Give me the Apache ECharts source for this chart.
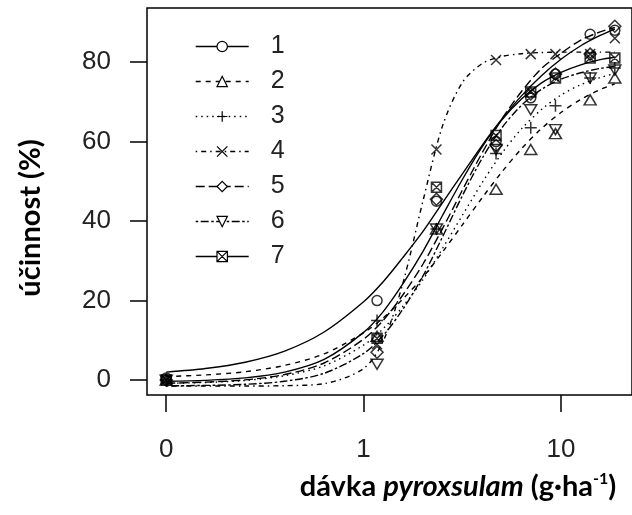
<!DOCTYPE html>
<html>
<head>
<meta charset="utf-8">
<script src="https://cdn.jsdelivr.net/npm/echarts@6/dist/echarts.min.js"></script>
<style>
  html, body { margin: 0; padding: 0; background: #fff; }
  #chart { width: 632px; height: 515px; }
</style>
</head>
<body>
<div id="chart"></div>
<script>
// Dose levels of pyroxsulam (g/ha); the untreated control (0) sits one decade below 1.
const doses = [0, 1.17, 2.34, 4.69, 7.03, 9.38, 14.06, 18.75];
// Doses at which the fitted dose-response curves are sampled.
const curveDoses = [0, 0.158, 0.251, 0.398, 0.631, 1, 1.26, 1.58, 2, 2.51, 3.16, 3.98, 5.01, 6.31, 7.94, 10, 12.6, 15.8, 18.75];
const groupNames = ['1', '2', '3', '4', '5', '6', '7'];

// Observed efficacy (%) per group.
const obs1 = [0.5, 20, 45, 60, 71, 77, 87, 88];
const obs2 = [0, 11, 38, 48, 58, 62, 70.5, 76];
const obs3 = [0, 15, 38, 57, 63.5, 69, 76, 78.5];
const obs4 = [0, 9, 58, 80.5, 82, 82, 82, 86];
const obs5 = [0, 7, 45.5, 59, 72, 77, 82, 89];
const obs6 = [0, 4, 38, 58, 68, 63, 76, 78];
const obs7 = [0, 10.5, 48.5, 61.5, 72.5, 76, 81, 81];

// Fitted efficacy (%) per group at curveDoses.
const fit1 = [2.0, 2.9, 4.5, 7.3, 12.1, 19.7, 24.8, 30.8, 37.4, 44.6, 51.8, 59.0, 65.6, 71.5, 76.5, 80.7, 84.1, 86.7, 88.3];
const fit2 = [0.9, 1.3, 2.1, 3.7, 6.6, 11.9, 15.7, 20.4, 25.9, 32.2, 39.0, 45.8, 52.3, 58.2, 63.2, 67.3, 70.6, 73.1, 74.5];
const fit3 = [-0.8, -0.6, -0.1, 1.1, 3.6, 8.8, 13.0, 18.5, 25.3, 33.1, 41.4, 49.6, 57.0, 63.2, 68.0, 71.7, 74.3, 76.1, 77.1];
const fit4 = [-1.5, -1.5, -1.5, -1.4, -0.9, 2.9, 9.9, 24.3, 45.1, 63.9, 74.8, 79.6, 81.4, 82.1, 82.4, 82.5, 82.5, 82.5, 82.5];
const fit5 = [-0.8, -0.5, 0.05, 1.4, 4.3, 10.3, 15.1, 21.4, 29.2, 38.1, 47.7, 57.1, 65.6, 72.6, 78.3, 82.2, 85.5, 87.6, 88.7];
const fit6 = [-1.44, -1.34, -1.06, -0.3, 1.7, 6.7, 11.3, 17.8, 26.2, 36.0, 46.3, 55.7, 63.4, 69.1, 73.1, 75.7, 77.3, 78.4, 78.9];
const fit7 = [-0.3, -0.06, 0.55, 2.0, 5.2, 12.0, 17.3, 24.2, 32.4, 41.4, 50.4, 58.6, 65.4, 70.7, 74.7, 77.4, 79.3, 80.6, 81.2];

// Axis ticks.
const xTickDoses = [0, 1, 10];
const xTickLabels = ['0', '1', '10'];
const yTickValues = [0, 20, 40, 60, 80];

const observed = [obs1, obs2, obs3, obs4, obs5, obs6, obs7];
const fitted = [fit1, fit2, fit3, fit4, fit5, fit6, fit7];

// Position on the log10 dose axis (control plotted at 0.1).
const logPos = d => Math.log10(d === 0 ? 0.1 : d);

// Line types: solid, dashed, dotted, dot-dash, long-dash, two-dash, solid.
const dashTypes = ['solid', [5, 5], [1.5, 4], [1.5, 4, 5, 4], [9, 4], [2.5, 2.5, 8, 2.5], 'solid'];

// Point symbols: open circle, triangle, plus, cross, diamond, inverted triangle, boxed cross.
const symbols = [
  'path://M10,5A5,5,0,1,1,0,5A5,5,0,1,1,10,5Z',
  'path://M5,0L10,9L0,9Z',
  'path://M5,0L5,10M0,5L10,5',
  'path://M0,0L10,10M10,0L0,10',
  'path://M5,0L10,5L5,10L0,5Z',
  'path://M0,0L10,0L5,9Z',
  'path://M0,0L10,0L10,10L0,10ZM0,0L10,10M10,0L0,10'
];
const symbolSizes = [[10, 10], [12, 10], [12, 12], [10, 10], [12, 12], [12, 10], [10, 10]];

const series = [];
groupNames.forEach((name, i) => {
  series.push({
    name: name,
    type: 'line',
    data: curveDoses.map((d, k) => [logPos(d), fitted[i][k]]),
    smooth: 0.3,
    showSymbol: false,
    symbol: symbols[i],
    symbolSize: symbolSizes[i],
    lineStyle: { color: '#000', width: 1.4, type: dashTypes[i] },
    itemStyle: { color: '#fff', borderColor: '#000', borderWidth: 1 },
    z: 2,
    silent: true
  });
});
groupNames.forEach((name, i) => {
  series.push({
    name: name,
    type: 'scatter',
    data: doses.map((d, k) => [logPos(d), observed[i][k]]),
    symbol: symbols[i],
    symbolSize: symbolSizes[i],
    itemStyle: { color: 'rgba(255,255,255,0)', borderColor: '#000', borderWidth: 1.5 },
    z: 3,
    silent: true
  });
});

const xTickPos = xTickDoses.map(logPos);
const tickFont = 'Liberation Sans';

const chart = echarts.init(document.getElementById('chart'), null, { renderer: 'canvas' });
chart.setOption({
  animation: false,
  backgroundColor: '#fff',
  grid: {
    left: 147, top: 8, width: 491.5, height: 387,
    show: true, borderColor: '#000', borderWidth: 1.5, backgroundColor: 'transparent'
  },
  xAxis: {
    type: 'value',
    min: -1.0975,
    max: 1.36,
    splitLine: { show: false },
    axisLine: { show: false, onZero: false },
    axisTick: { show: true, length: 17, inside: false, customValues: xTickPos, lineStyle: { color: '#000', width: 1.5 } },
    axisLabel: {
      customValues: xTickPos,
      margin: 42,
      fontSize: 26,
      fontFamily: tickFont,
      color: '#222',
      formatter: v => {
        const k = xTickPos.findIndex(p => Math.abs(p - v) < 1e-6);
        return k >= 0 ? xTickLabels[k] : '';
      }
    }
  },
  yAxis: {
    type: 'value',
    min: -3.75,
    max: 93.6,
    splitLine: { show: false },
    axisLine: { show: false, onZero: false },
    axisTick: { show: true, length: 17, inside: false, customValues: yTickValues, lineStyle: { color: '#000', width: 1.5 } },
    axisLabel: {
      customValues: yTickValues,
      margin: 36,
      fontSize: 26,
      fontFamily: tickFont,
      color: '#222'
    }
  },
  legend: {
    data: groupNames,
    orient: 'vertical',
    left: 195,
    top: 34,
    padding: 0,
    itemWidth: 53,
    itemHeight: 13,
    itemGap: 10,
    selectedMode: false,
    textStyle: { fontSize: 25, fontFamily: tickFont, color: '#222', lineHeight: 25, padding: [0, 0, 0, 17] },
    itemStyle: { color: '#fff', borderColor: '#000', borderWidth: 1.2 },
    lineStyle: { color: '#000', width: 1.4 }
  },
  graphic: [
    {
      type: 'text',
      x: 31, y: 218,
      rotation: Math.PI / 2,
      style: {
        text: 'účinnost (%)',
        font: 'bold 29px Lato',
        fill: '#000',
        align: 'center',
        verticalAlign: 'middle'
      }
    },
    {
      type: 'text',
      x: 458, y: 487,
      style: {
        text: '{b|dávka }{i|pyroxsulam}{b| (g·ha}{s|-1}{b|)}',
        align: 'center',
        verticalAlign: 'middle',
        rich: {
          b: { fontFamily: 'Lato', fontWeight: 'bold', fontSize: 29, lineHeight: 32, fill: '#000' },
          i: { fontFamily: 'Lato', fontWeight: 'bold', fontStyle: 'italic', fontSize: 29, lineHeight: 32, fill: '#000' },
          s: { fontFamily: 'Lato', fontWeight: 'bold', fontSize: 16, lineHeight: 16, verticalAlign: 'top', fill: '#000' }
        }
      }
    }
  ],
  series: series
});
</script>
</body>
</html>
